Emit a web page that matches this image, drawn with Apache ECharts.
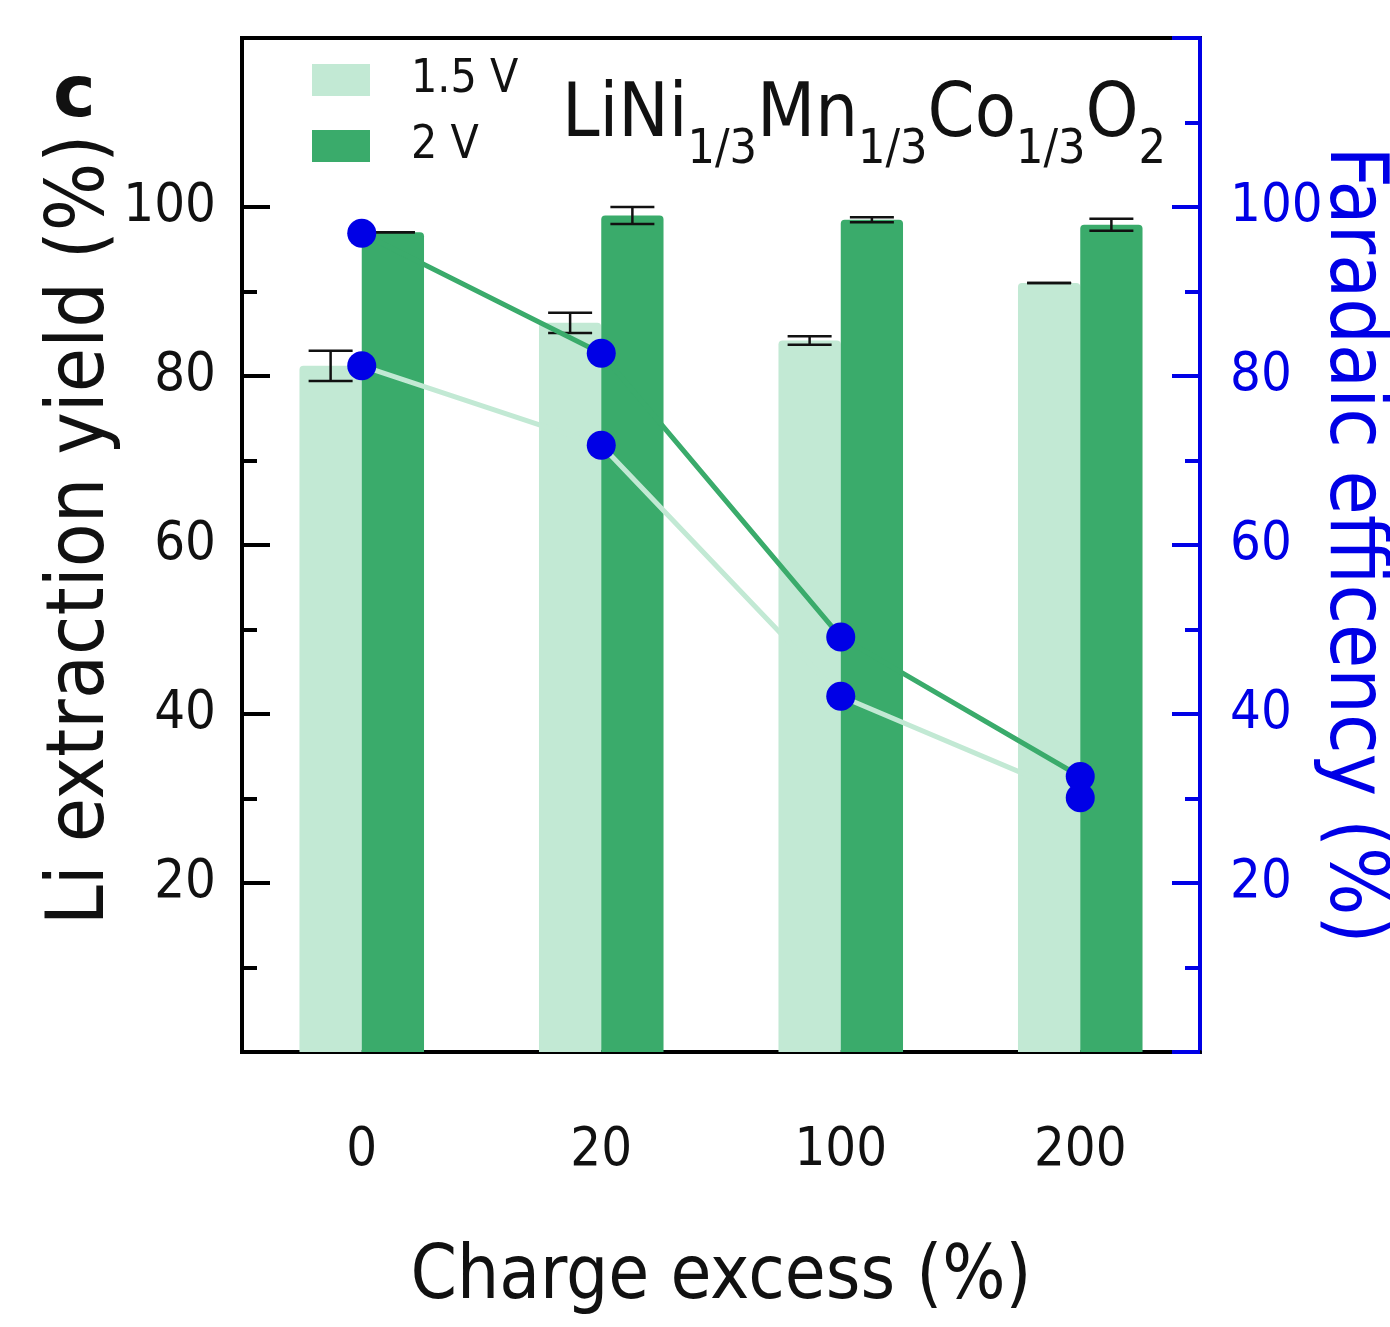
<!DOCTYPE html>
<html>
<head>
<meta charset="utf-8">
<script src="https://cdn.jsdelivr.net/npm/echarts@6/dist/echarts.min.js"></script>
<style>
html, body { margin: 0; padding: 0; background: #fff; }
#chart { width: 1390px; height: 1327px; }
</style>
</head>
<body>
<div id="chart"></div>
<script>
const categories = ['0', '20', '100', '200'];
const yield15 = [81.2, 86.3, 84.2, 91.0];
const yield15Err = [1.8, 1.2, 0.5, 0];
const yield2 = [97.0, 99.0, 98.5, 97.9];
const yield2Err = [0, 1.0, 0.3, 0.7];
const fe15 = [81.2, 71.8, 42.1, 30.1];
const fe2 = [96.9, 82.7, 49.1, 32.6];
const yTicks = [20, 40, 60, 80, 100];
const leftMinorTicks = [10, 30, 50, 70, 90];

const FONT = "'DejaVu Sans Condensed', 'DejaVu Sans', sans-serif";
const light = '#c2e9d4';
const dark = '#3aab6b';
const blue = '#0000e6';

// error bars drawn beside each bar of a group
function errorSeries(name, values, errs, side) {
  return {
    name: name,
    type: 'custom',
    z: 3,
    data: values.map((v, i) => [i, v, errs[i]]),
    encode: { x: 0, y: 1 },
    renderItem(params, api) {
      const i = api.value(0), v = api.value(1), e = api.value(2);
      const band = api.size([1, 0])[0];
      const top = api.coord([i, v + e]);
      const bot = api.coord([i, v - e]);
      const x = top[0] + side * band * 0.13;
      const half = 22;
      const style = { stroke: '#111', lineWidth: 2.5 };
      return {
        type: 'group',
        children: [
          { type: 'line', shape: { x1: x, y1: top[1], x2: x, y2: bot[1] }, style: style },
          { type: 'line', shape: { x1: x - half, y1: top[1], x2: x + half, y2: top[1] }, style: style },
          { type: 'line', shape: { x1: x - half, y1: bot[1], x2: x + half, y2: bot[1] }, style: style }
        ]
      };
    }
  };
}

const myChart = echarts.init(document.getElementById('chart'));

const option = {
  backgroundColor: '#fff',
  animation: false,
  textStyle: { fontFamily: FONT },
  title: [
    {
      text: 'c',
      left: 53,
      top: 61,
      padding: 0,
      textStyle: { fontSize: 72, fontWeight: 'bold', color: '#111', fontFamily: "'DejaVu Sans', sans-serif" }
    },
    {
      text: '{m|LiNi}{s|1/3}{m|Mn}{s|1/3}{m|Co}{s|1/3}{m|O}{s|2}',
      left: 562,
      top: 79,
      padding: 0,
      textStyle: {
        fontWeight: 'normal',
        rich: {
          m: { fontSize: 75, lineHeight: 96, verticalAlign: 'top', fontWeight: 'normal', color: '#111', fontFamily: FONT },
          s: { fontSize: 48, lineHeight: 18, verticalAlign: 'bottom', fontWeight: 'normal', color: '#111', fontFamily: FONT }
        }
      }
    }
  ],
  legend: {
    data: ['1.5 V', '2 V'],
    orient: 'vertical',
    left: 312,
    top: 57,
    padding: 0,
    icon: 'rect',
    itemWidth: 58,
    itemHeight: 32,
    itemGap: 20,
    formatter: name => '{t|' + name + '}',
    textStyle: {
      rich: { t: { fontSize: 46, color: '#111', padding: [0, 0, 0, 36], fontFamily: FONT } }
    }
  },
  grid: {
    left: 242,
    right: 190,
    top: 38,
    bottom: 275,
    containLabel: false,
    outerBoundsMode: 'none',
    show: true,
    borderColor: '#000',
    borderWidth: 4
  },
  xAxis: {
    type: 'category',
    data: categories,
    boundaryGap: true,
    axisLine: { lineStyle: { color: '#000', width: 4 } },
    axisTick: { alignWithLabel: true, length: 28, lineStyle: { color: '#000', width: 4 } },
    axisLabel: { fontSize: 54, color: '#111', margin: 72 },
    name: 'Charge excess (%)',
    nameLocation: 'middle',
    nameGap: 190,
    nameTextStyle: { fontSize: 74, color: '#111' }
  },
  yAxis: [
    {
      type: 'value',
      position: 'left',
      min: 0,
      max: 120,
      interval: 20,
      axisLine: { show: true, lineStyle: { color: '#000', width: 4 } },
      axisTick: { show: true, inside: true, length: 28, lineStyle: { color: '#000', width: 4 } },
      splitLine: { show: false },
      axisLabel: {
        fontSize: 54,
        color: '#111',
        margin: 26,
        formatter: v => (yTicks.includes(v) ? String(v) : '')
      },
      name: 'Li extraction yield (%)',
      nameLocation: 'middle',
      nameRotate: 90,
      nameGap: 120,
      nameMoveOverlap: false,
      nameTextStyle: { fontSize: 80, color: '#111', padding: [0, 0, 0, 30] }
    },
    {
      type: 'value',
      position: 'right',
      min: 0,
      max: 120,
      interval: 20,
      axisLine: { show: true, lineStyle: { color: blue, width: 4 } },
      axisTick: { show: true, inside: true, length: 28, lineStyle: { color: blue, width: 4 } },
      minorTick: { show: true, splitNumber: 2, length: 15, lineStyle: { color: blue, width: 4 } },
      splitLine: { show: false },
      axisLabel: {
        fontSize: 54,
        color: blue,
        margin: 30,
        formatter: v => (yTicks.includes(v) ? String(v) : '')
      },
      name: 'Faradaic efficency (%)',
      nameLocation: 'middle',
      nameRotate: -90,
      nameGap: 112,
      nameMoveOverlap: false,
      nameTextStyle: { fontSize: 80, color: blue }
    },
    {
      // short ticks of the left axis (none at 110)
      type: 'value',
      position: 'left',
      min: 0,
      max: 120,
      axisLine: { show: false },
      axisLabel: { show: false },
      splitLine: { show: false },
      axisTick: {
        show: true,
        inside: true,
        length: 15,
        customValues: leftMinorTicks,
        lineStyle: { color: '#000', width: 4 }
      }
    }
  ],
  series: [
    {
      name: '1.5 V',
      type: 'bar',
      data: yield15,
      barWidth: '26%',
      barGap: '0%',
      z: 2,
      itemStyle: { color: light, borderRadius: [4, 4, 0, 0] }
    },
    {
      name: '2 V',
      type: 'bar',
      data: yield2,
      barWidth: '26%',
      barGap: '0%',
      z: 2,
      itemStyle: { color: dark, borderRadius: [4, 4, 0, 0] }
    },
    errorSeries('err 1.5 V', yield15, yield15Err, -1),
    errorSeries('err 2 V', yield2, yield2Err, 1),
    {
      name: 'FE 1.5 V',
      type: 'line',
      yAxisIndex: 1,
      data: fe15,
      z: 4,
      symbol: 'circle',
      symbolSize: 29,
      lineStyle: { color: light, width: 5 },
      itemStyle: { color: blue }
    },
    {
      name: 'FE 2 V',
      type: 'line',
      yAxisIndex: 1,
      data: fe2,
      z: 4,
      symbol: 'circle',
      symbolSize: 29,
      lineStyle: { color: dark, width: 5 },
      itemStyle: { color: blue }
    }
  ]
};

myChart.setOption(option);
window.onresize = myChart.resize;
</script>
</body>
</html>
